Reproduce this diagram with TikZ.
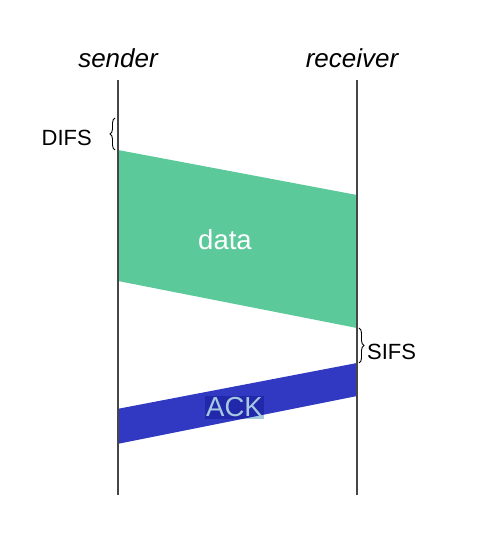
\documentclass[tikz,border=0pt]{standalone}
\usepackage{fontspec}
\setmainfont{Liberation Sans}
\usetikzlibrary{decorations.pathreplacing}
\definecolor{datagreen}{RGB}{92,201,155}
\definecolor{ackblue}{RGB}{49,56,194}
\definecolor{acklight}{RGB}{166,200,224}
\definecolor{ackdark}{RGB}{34,40,170}
\definecolor{lifeline}{RGB}{70,70,70}
\tikzset{
  lifeline/.style={draw=lifeline, line width=1.4pt},
  endpoint/.style={font=\fontsize{26}{30}\selectfont\itshape, inner sep=0pt},
  gaplabel/.style={font=\fontsize{22}{26}\selectfont, inner sep=0pt},
  gapbrace/.style={draw=black, line width=0.9pt, decorate,
    decoration={brace, amplitude=5pt}},
}
\begin{document}
\begin{tikzpicture}[x=1pt, y=-1pt]
  \useasboundingbox (0,0) rectangle (492,534);

  % lifeline ends
  \coordinate (sTop) at (118,80);
  \coordinate (sBot) at (118,495);
  \coordinate (rTop) at (357,80);
  \coordinate (rBot) at (357,495);

  % data frame
  \fill[datagreen] (118,150) -- (357,195) -- (357,328) -- (118,281) -- cycle;
  \node[font=\fontsize{27.5}{32}\selectfont, text=white, inner sep=0pt] (data) at (225,240) {data};

  % ACK frame
  \fill[ackblue] (117,409) -- (357,363) -- (357,396) -- (117,444) -- cycle;
  \fill[acklight] (205,396) rectangle (264,419);
  \begin{scope}
    \clip (117,409) -- (357,363) -- (357,396) -- (117,444) -- cycle;
    \fill[ackdark] (205,396) rectangle (264,419);
  \end{scope}
  \node[font=\fontsize{27.5}{32}\selectfont, text=acklight, inner sep=0pt] (ack) at (234.5,407.5) {ACK};

  % lifelines
  \draw[lifeline] (sTop) -- (sBot);
  \draw[lifeline] (rTop) -- (rBot);

  % station names
  \node[endpoint] (sender) at (118,58) {sender};
  \node[endpoint] (receiver) at (352,58) {receiver};

  % interframe spaces
  \coordinate (difsA) at (115,150);
  \coordinate (difsB) at (115,118);
  \draw[gapbrace] (difsA) -- (difsB);
  \node[gaplabel, anchor=east] (difs) at (92,138) {DIFS};

  \coordinate (sifsA) at (359,328);
  \coordinate (sifsB) at (359,363);
  \draw[gapbrace] (sifsA) -- (sifsB);
  \node[gaplabel, anchor=west] (sifs) at (367,352) {SIFS};
\end{tikzpicture}
\end{document}
